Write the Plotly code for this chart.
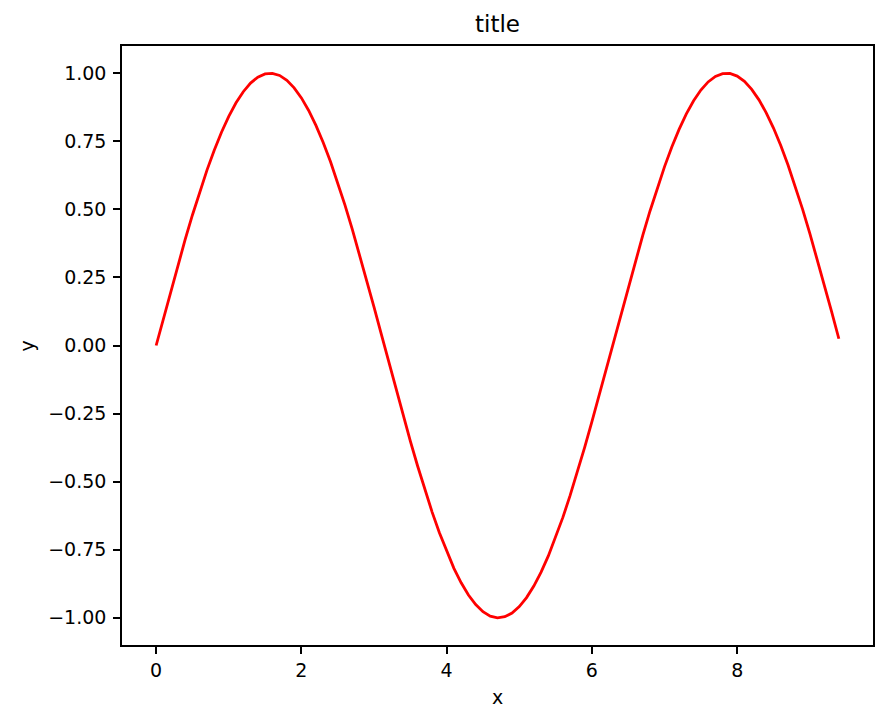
import plotly.graph_objects as go

x_values = [0.0, 0.1, 0.2, 0.3, 0.4, 0.5, 0.6, 0.7, 0.8, 0.9,
            1.0, 1.1, 1.2, 1.3, 1.4, 1.5, 1.6, 1.7, 1.8, 1.9,
            2.0, 2.1, 2.2, 2.3, 2.4, 2.5, 2.6, 2.7, 2.8, 2.9,
            3.0, 3.1, 3.2, 3.3, 3.4, 3.5, 3.6, 3.7, 3.8, 3.9,
            4.0, 4.1, 4.2, 4.3, 4.4, 4.5, 4.6, 4.7, 4.8, 4.9,
            5.0, 5.1, 5.2, 5.3, 5.4, 5.5, 5.6, 5.7, 5.8, 5.9,
            6.0, 6.1, 6.2, 6.3, 6.4, 6.5, 6.6, 6.7, 6.8, 6.9,
            7.0, 7.1, 7.2, 7.3, 7.4, 7.5, 7.6, 7.7, 7.8, 7.9,
            8.0, 8.1, 8.2, 8.3, 8.4, 8.5, 8.6, 8.7, 8.8, 8.9,
            9.0, 9.1, 9.2, 9.3, 9.4]

y_values = [0.0000, 0.0998, 0.1987, 0.2955, 0.3894, 0.4794, 0.5646, 0.6442, 0.7174, 0.7833,
            0.8415, 0.8912, 0.9320, 0.9636, 0.9854, 0.9975, 0.9996, 0.9917, 0.9738, 0.9463,
            0.9093, 0.8632, 0.8085, 0.7457, 0.6755, 0.5985, 0.5155, 0.4274, 0.3350, 0.2392,
            0.1411, 0.0416, -0.0584, -0.1577, -0.2555, -0.3508, -0.4425, -0.5298, -0.6119, -0.6878,
            -0.7568, -0.8183, -0.8716, -0.9162, -0.9516, -0.9775, -0.9937, -0.9999, -0.9962, -0.9825,
            -0.9589, -0.9258, -0.8835, -0.8323, -0.7728, -0.7055, -0.6313, -0.5507, -0.4646, -0.3739,
            -0.2794, -0.1822, -0.0831, 0.0168, 0.1165, 0.2151, 0.3115, 0.4048, 0.4941, 0.5784,
            0.6570, 0.7290, 0.7937, 0.8504, 0.8987, 0.9380, 0.9679, 0.9882, 0.9985, 0.9989,
            0.9894, 0.9699, 0.9407, 0.9022, 0.8546, 0.7985, 0.7344, 0.6630, 0.5849, 0.5010,
            0.4121, 0.3191, 0.2229, 0.1245, 0.0248]

x_ticks = [0, 2, 4, 6, 8]
y_ticks = [-1.00, -0.75, -0.50, -0.25, 0.00, 0.25, 0.50, 0.75, 1.00]

title_text = "title"
x_label = "x"
y_label = "y"

FONT = "DejaVu Sans"

fig = go.Figure()
fig.add_trace(go.Scatter(x=x_values, y=y_values, mode="lines",
                         line=dict(color="#ff0000", width=2.8), showlegend=False))

axis_common = dict(showline=True, mirror=True, linecolor="black", linewidth=1.5,
                   ticks="outside", ticklen=7, tickwidth=1.5, tickcolor="black",
                   showgrid=False, zeroline=False,
                   tickfont=dict(family=FONT, size=19, color="black"))

fig.update_xaxes(range=[-0.47, 9.87], tickvals=x_ticks,
                 ticktext=[str(v) for v in x_ticks], **axis_common)
fig.update_yaxes(range=[-1.0999, 1.0999], tickvals=y_ticks,
                 ticktext=[("\u2212" if v < 0 else "") + f"{abs(v):.2f}" for v in y_ticks],
                 ticklabelstandoff=3, **axis_common)

# page body has an 8px margin; compensate so plot area lands at 122..873 x 46..645
fig.update_layout(
    width=886, height=724,
    margin=dict(l=114, r=21, t=38, b=87),
    paper_bgcolor="white", plot_bgcolor="white",
    font=dict(family=FONT, color="black"),
    annotations=[
        dict(text=title_text, x=0.5, y=1.0367, xref="paper", yref="paper",
             xanchor="center", yanchor="middle", showarrow=False,
             font=dict(family=FONT, size=23, color="black")),
        dict(text=x_label, x=0.5, y=-0.0868, xref="paper", yref="paper",
             xanchor="center", yanchor="middle", showarrow=False,
             font=dict(family=FONT, size=19, color="black")),
        dict(text=y_label, x=-0.1265, y=0.5, xref="paper", yref="paper",
             xanchor="center", yanchor="middle", showarrow=False, textangle=-90,
             font=dict(family=FONT, size=19, color="black")),
    ],
)

fig.write_html("out.html")
